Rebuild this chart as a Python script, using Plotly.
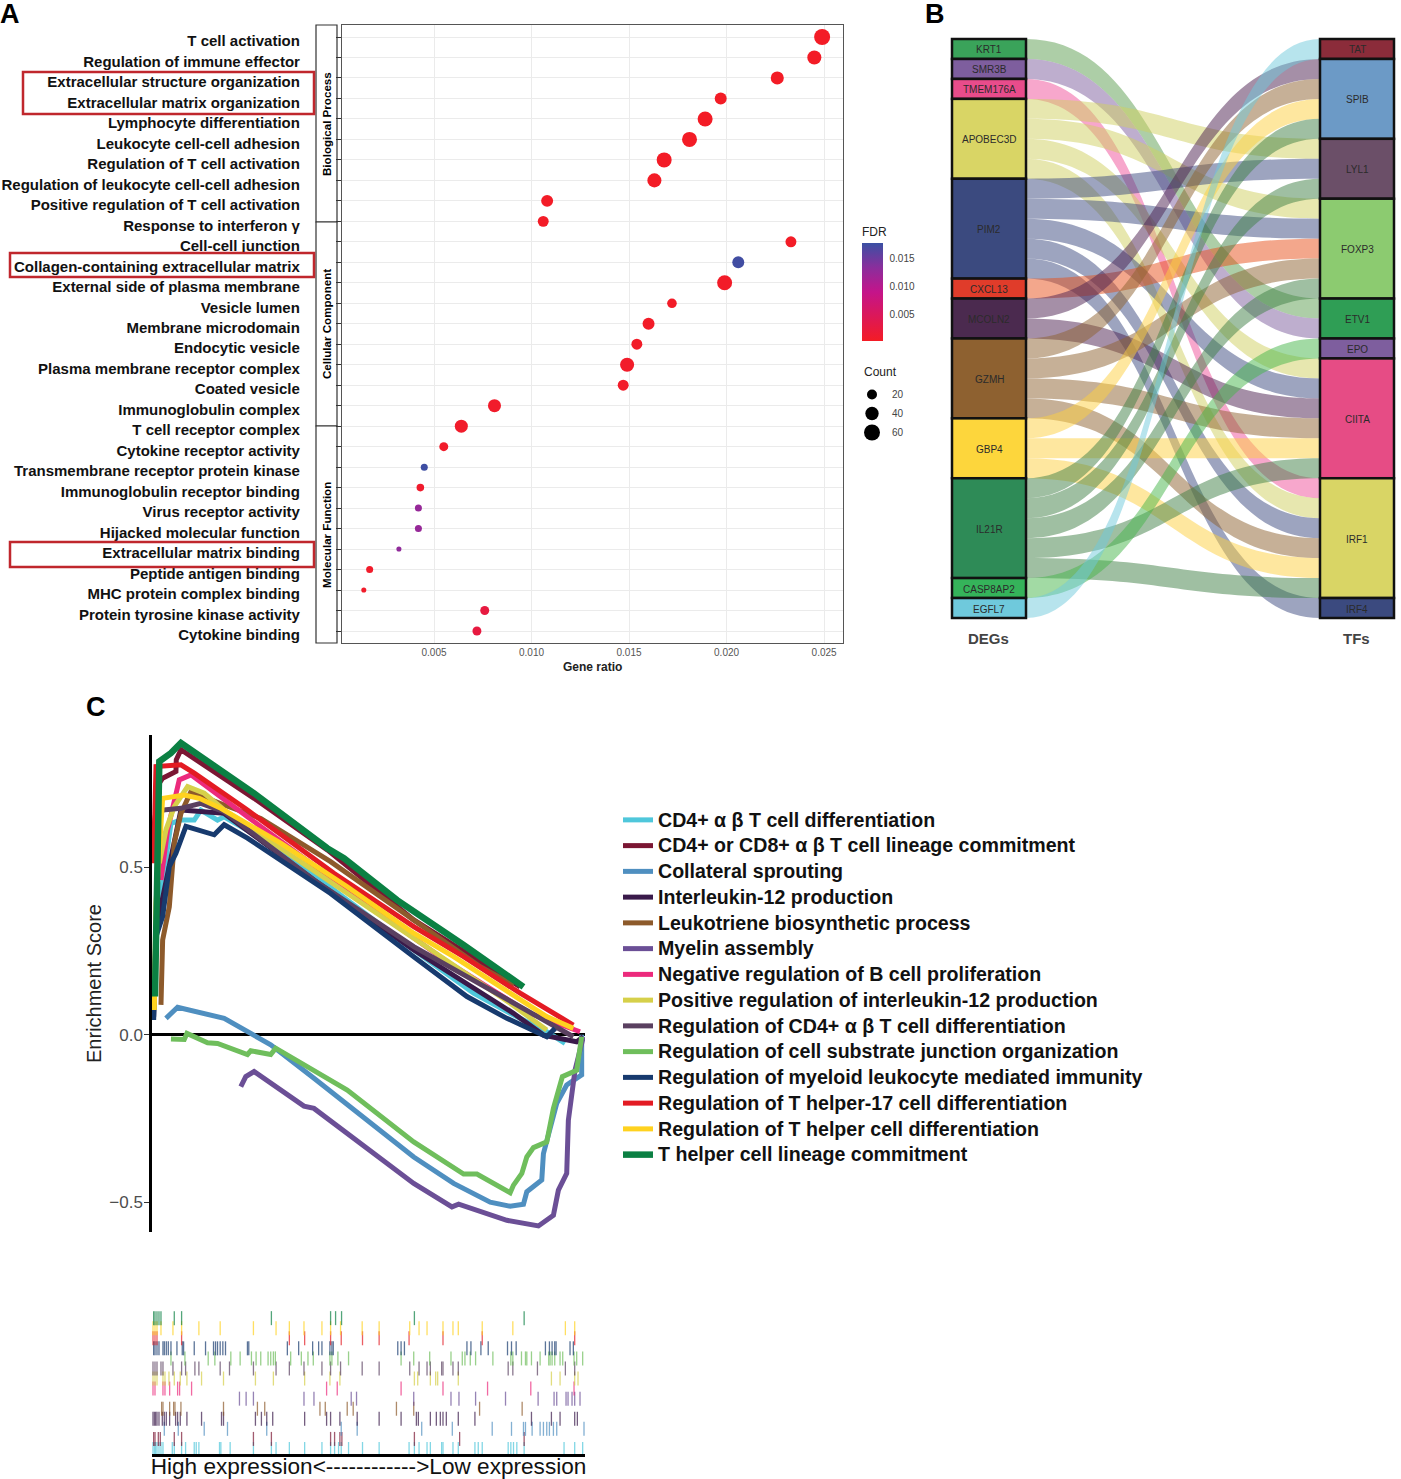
#### Composite figure: GO dot plot (A), DEG-TF alluvial (B) and GSEA running score plot (C)

import numpy as np
import plotly.graph_objects as go

W, H = 1401, 1479
FONT = "Liberation Sans"

# ---- Panel A data ----
go_terms = [
    "T cell activation", "Regulation of immune effector", "Extracellular structure organization",
    "Extracellular matrix organization", "Lymphocyte differentiation", "Leukocyte cell-cell adhesion",
    "Regulation of T cell activation", "Regulation of leukocyte cell-cell adhesion",
    "Positive regulation of T cell activation", "Response to interferon γ", "Cell-cell junction",
    "Collagen-containing extracellular matrix", "External side of plasma membrane", "Vesicle lumen",
    "Membrane microdomain", "Endocytic vesicle", "Plasma membrane receptor complex", "Coated vesicle",
    "Immunoglobulin complex", "T cell receptor complex", "Cytokine receptor activity",
    "Transmembrane receptor protein kinase", "Immunoglobulin receptor binding", "Virus receptor activity",
    "Hijacked molecular function", "Extracellular matrix binding", "Peptide antigen binding",
    "MHC protein complex binding", "Protein tyrosine kinase activity", "Cytokine binding",
]
gene_ratio = [0.0249, 0.0245, 0.0226, 0.0197, 0.0189, 0.0181, 0.0168, 0.0163, 0.0108, 0.0106,
              0.0233, 0.0206, 0.0199, 0.0172, 0.0160, 0.0154, 0.0149, 0.0147, 0.0081, 0.0064,
              0.0055, 0.0045, 0.0043, 0.0042, 0.0042, 0.0032, 0.0017, 0.0014, 0.0076, 0.0072]
go_count = [60, 45, 38, 31, 52, 52, 52, 45, 31, 25,
            25, 31, 52, 18, 31, 25, 45, 25, 38, 38,
            15, 7, 9, 7, 7, 1, 7, 1, 15, 15]
go_fdr = [0.0002, 0.0002, 0.0002, 0.0002, 0.0002, 0.0002, 0.0002, 0.0002, 0.0003, 0.0003,
          0.0003, 0.0175, 0.0004, 0.0004, 0.0004, 0.0004, 0.0005, 0.0005, 0.0006, 0.0006,
          0.0006, 0.0177, 0.0008, 0.0125, 0.0125, 0.0130, 0.0006, 0.0006, 0.0025, 0.0025]
legend_counts = [20, 40, 60]
fdr_ticks = [0.005, 0.010, 0.015]

# ---- Panel B data ----
deg_names = ["KRT1", "SMR3B", "TMEM176A", "APOBEC3D", "PIM2", "CXCL13", "MCOLN2", "GZMH", "GBP4",
             "IL21R", "CASP8AP2", "EGFL7"]
tf_names = ["TAT", "SPIB", "LYL1", "FOXP3", "ETV1", "EPO", "CIITA", "IRF1", "IRF4"]
flow_from = ["KRT1", "SMR3B", "TMEM176A", "APOBEC3D", "APOBEC3D", "APOBEC3D", "APOBEC3D",
             "PIM2", "PIM2", "PIM2", "PIM2", "PIM2", "CXCL13", "MCOLN2", "MCOLN2",
             "GZMH", "GZMH", "GZMH", "GZMH", "GBP4", "GBP4", "GBP4",
             "IL21R", "IL21R", "IL21R", "IL21R", "IL21R", "CASP8AP2", "EGFL7"]
flow_to = ["ETV1", "ETV1", "IRF1", "LYL1", "FOXP3", "CIITA", "IRF1",
           "LYL1", "FOXP3", "CIITA", "IRF1", "IRF4", "FOXP3", "SPIB", "CIITA",
           "SPIB", "FOXP3", "CIITA", "IRF1", "SPIB", "CIITA", "IRF1",
           "SPIB", "LYL1", "FOXP3", "CIITA", "IRF1", "EPO", "TAT"]
deg_colors = ["#3AA35A", "#7E5E9E", "#E84C8B", "#D9D565", "#3B4A7F", "#E03C2A", "#4B2A4F",
              "#8E6130", "#FDD63C", "#2E8B57", "#35B35A", "#6FC9DC"]
tf_colors = ["#8B2C3A", "#6C9AC6", "#6B4F68", "#8CCB70", "#2F9E55", "#7E5E9E", "#E64C85",
             "#D9D565", "#3B4A7F"]
flow_colors = {"KRT1": "#5C9E50", "SMR3B": "#7E5E9E", "TMEM176A": "#F0509A", "APOBEC3D": "#CFD060",
               "PIM2": "#3B4A7F", "CXCL13": "#E8501A", "MCOLN2": "#4B1F4F", "GZMH": "#8E6130",
               "GBP4": "#FDD040", "IL21R": "#3F7F45", "CASP8AP2": "#45B54A", "EGFL7": "#6FC9DC"}

# ---- Panel C data: rank axis has no labels, so the rank unit is arbitrary ----
gsea_names = [
    "CD4+ α β T cell differentiation", "CD4+ or CD8+ α β T cell lineage commitment",
    "Collateral sprouting", "Interleukin-12 production", "Leukotriene biosynthetic process",
    "Myelin assembly", "Negative regulation of B cell proliferation",
    "Positive regulation of interleukin-12 production", "Regulation of CD4+ α β T cell differentiation",
    "Regulation of cell substrate junction organization", "Regulation of myeloid leukocyte mediated immunity",
    "Regulation of T helper-17 cell differentiation", "Regulation of T helper cell differentiation",
    "T helper cell lineage commitment",
]
gsea_colors = ["#4FC7DB", "#7B1633", "#4F8FC0", "#3A1A4A", "#8D5A2B", "#6B4F96", "#EC2A7C",
               "#D6D04A", "#5A4060", "#6FBE5C", "#173A6E", "#E31B23", "#FFD21F", "#0B8043"]

rank_cd4 = [75, 120, 150, 190, 210, 260, 280, 450, 650, 850, 1030, 1140, 1250, 1305]
es_cd4 = [.313, .631, .641, .641, .671, .641, .651, .552, .402, .253, .124, .064, .009, -.026]
rank_cd8 = [68, 85, 95, 135, 136, 150, 370, 590, 850, 1170]
es_cd8 = [.612, .751, .766, .786, .821, .851, .706, .552, .343, .143]
rank_coll = [105, 140, 280, 350, 420, 550, 850, 970, 1080, 1140, 1180, 1190, 1235, 1240, 1280, 1310, 1355, 1355]
es_coll = [.049, .082, .049, .009, -.03, -.13, -.365, -.444, -.5, -.512, -.506, -.469, -.434, -.355, -.205, -.15, -.12, 0]
rank_il12 = [68, 75, 150, 280, 550, 850, 1150, 1240, 1340, 1360]
es_il12 = [.054, .313, .671, .661, .462, .253, .064, -.001, -.021, -.006]
rank_leuko = [90, 95, 115, 130, 150, 180, 280, 390, 600, 850, 1050, 1150]
es_leuko = [.089, .283, .382, .572, .661, .726, .686, .646, .517, .343, .203, .148]
rank_myelin = [330, 345, 370, 520, 550, 850, 965, 985, 1130, 1225, 1270, 1285, 1310, 1315, 1335, 1360]
es_myelin = [-.155, -.125, -.11, -.213, -.22, -.444, -.514, -.506, -.554, -.571, -.539, -.464, -.414, -.255, -.106, -.006]
rank_bcell = [90, 110, 145, 180, 350, 650, 950, 1200, 1350]
es_bcell = [.462, .612, .761, .776, .651, .432, .218, .064, .009]
rank_pos12 = [85, 105, 130, 170, 220, 280, 850, 1140, 1250]
es_pos12 = [.512, .612, .681, .741, .721, .671, .288, .094, .014]
rank_regcd4 = [70, 95, 150, 210, 280, 550, 850, 1130, 1330]
es_regcd4 = [.612, .671, .676, .691, .666, .462, .263, .104, -.006]
rank_subst = [120, 160, 168, 230, 260, 350, 360, 420, 435, 550, 600, 650, 850, 980, 1000, 1040, 1140, 1150,
              1175, 1190, 1210, 1250, 1270, 1297, 1340, 1355]
es_subst = [-.013, -.014, .004, -.024, -.026, -.059, -.048, -.059, -.04, -.106, -.135, -.165, -.32, -.404, -.416,
            -.416, -.472, -.449, -.414, -.365, -.337, -.32, -.22, -.125, -.106, -.006]
rank_myeloid = [68, 75, 95, 115, 135, 145, 165, 250, 280, 350, 600, 850, 1010, 1130, 1250, 1275]
es_myeloid = [.044, .293, .353, .502, .542, .572, .622, .597, .627, .587, .422, .233, .114, .049, -.006, .019]
rank_th17 = [68, 75, 150, 190, 350, 610, 850, 1000, 1170, 1330]
es_th17 = [.512, .801, .806, .781, .671, .482, .323, .233, .124, .029]
rank_thdiff = [70, 75, 95, 160, 205, 270, 450, 650, 850, 970, 1250, 1330]
es_thdiff = [.074, .392, .706, .716, .706, .676, .572, .442, .303, .233, .054, .019]
rank_thline = [72, 78, 85, 120, 150, 370, 590, 640, 800, 1000, 1180]
es_thline = [.114, .612, .816, .841, .871, .721, .557, .527, .402, .268, .143]

hits_cd4 = [66, 70, 74, 78, 84, 90, 96, 124, 130, 152, 164, 190, 196, 204, 266, 270, 298, 368, 422, 436, 476, 522,
            574, 600, 612, 624, 632, 654, 696, 746, 836, 852, 866, 890, 900, 934, 938, 968, 984, 1034, 1044, 1056,
            1134, 1142, 1150, 1160, 1182, 1302, 1334, 1358]
hits_cd8 = [68, 72, 82, 88, 130, 152, 368, 422, 600, 612, 628, 634, 852, 988, 1182]
hits_coll = [100, 142, 220, 290, 408, 632, 680, 874, 966, 1086, 1144, 1180, 1186, 1206, 1230, 1240, 1250, 1258,
             1270, 1280, 1362]
hits_il12 = [66, 70, 74, 78, 84, 94, 100, 106, 116, 134, 140, 148, 168, 212, 272, 278, 374, 392, 408, 426, 522, 588,
             600, 628, 680, 746, 812, 858, 864, 900, 918, 930, 938, 948, 984, 1034, 1204, 1264, 1290, 1334, 1342]
hits_leuko = [92, 96, 116, 128, 132, 150, 278, 380, 402, 568, 584, 650, 668, 798, 850, 1048, 1176]
hits_myelin = [326, 346, 368, 520, 550, 662, 678, 850, 962, 986, 1036, 1126, 1224, 1272, 1280, 1308, 1314, 1326,
               1334, 1350]
hits_bcell = [66, 72, 96, 102, 116, 140, 146, 182, 588, 620, 812, 938, 1072, 1202, 1332]
hits_pos12 = [66, 72, 78, 96, 102, 114, 130, 148, 168, 212, 278, 374, 428, 522, 598, 628, 852, 862, 900, 916, 922,
              984, 1264, 1290, 1334, 1344]
hits_regcd4 = [66, 72, 78, 90, 96, 126, 152, 164, 192, 204, 268, 296, 368, 436, 476, 520, 574, 600, 630, 695, 746,
               838, 866, 890, 900, 934, 938, 968, 984, 1134, 1148, 1222, 1306, 1334]
hits_subst = [120, 162, 232, 252, 300, 328, 362, 376, 390, 412, 420, 428, 434, 480, 512, 532, 548, 598, 604, 622,
              654, 812, 850, 898, 962, 996, 1004, 1020, 1036, 1088, 1142, 1148, 1174, 1186, 1190, 1204, 1230, 1256,
              1260, 1266, 1274, 1290, 1298, 1332, 1340, 1358]
hits_myeloid = [68, 72, 78, 84, 96, 100, 106, 112, 120, 138, 154, 158, 190, 224, 248, 254, 260, 268, 276, 284, 350,
                354, 470, 504, 546, 564, 574, 598, 604, 608, 802, 812, 822, 1010, 1022, 1052, 1074, 1132, 1144, 1158,
                1246, 1258, 1266, 1274, 1278, 1320, 1330]
hits_th17 = [66, 72, 78, 152, 476, 522, 600, 632, 696, 746, 836, 938, 1056, 1334]
hits_thdiff = [66, 72, 78, 90, 126, 152, 204, 268, 368, 436, 476, 520, 574, 600, 630, 695, 746, 838, 866, 890, 938,
               968, 984, 1056, 1148, 1306, 1334]
hits_thline = [68, 72, 78, 84, 90, 130, 152, 422, 600, 615, 633, 852, 1182]

gsea_ranks = [rank_cd4, rank_cd8, rank_coll, rank_il12, rank_leuko, rank_myelin, rank_bcell, rank_pos12,
              rank_regcd4, rank_subst, rank_myeloid, rank_th17, rank_thdiff, rank_thline]
gsea_scores = [es_cd4, es_cd8, es_coll, es_il12, es_leuko, es_myelin, es_bcell, es_pos12,
               es_regcd4, es_subst, es_myeloid, es_th17, es_thdiff, es_thline]
gsea_hits = [hits_cd4, hits_cd8, hits_coll, hits_il12, hits_leuko, hits_myelin, hits_bcell, hits_pos12,
             hits_regcd4, hits_subst, hits_myeloid, hits_th17, hits_thdiff, hits_thline]


def px_x(x):
    return x / W


def px_y(y):
    return 1 - y / H


def dom_x(a, b):
    return [px_x(a), px_x(b)]


def dom_y(top, bottom):
    return [px_y(bottom), px_y(top)]


def rgba(hex_color, alpha):
    r, g, b = (int(hex_color[i:i + 2], 16) for i in (1, 3, 5))
    return f"rgba({r},{g},{b},{alpha})"


def count_size(count):
    return np.sqrt(22 + 3.9 * np.asarray(count, dtype=float))


fig = go.Figure()

# Panel A
fig.add_trace(go.Scatter(
    x=gene_ratio, y=go_terms, mode="markers", xaxis="x", yaxis="y", showlegend=False,
    marker=dict(
        size=count_size(go_count), color=go_fdr, cmin=0.0001, cmax=0.0179, line_width=0, opacity=1,
        colorscale=[[0, "#F41C25"], [0.5, "#C4148A"], [0.75, "#8A2E9C"], [1, "#3A50A3"]],
        colorbar=dict(
            title=dict(text="FDR", side="top", font=dict(size=12, color="#222")),
            x=px_x(862), xanchor="left", xpad=0, y=px_y(224), yanchor="top", ypad=0,
            thickness=21, len=117, lenmode="pixels", outlinewidth=0,
            tickvals=fdr_ticks, tickformat=".3f", ticks="outside", ticklen=5, tickcolor="rgba(0,0,0,0)",
            tickfont=dict(size=10, color="#444"),
        ),
    ),
))
for c in legend_counts:
    fig.add_trace(go.Scatter(
        x=[None], y=[None], mode="markers", name=str(c), legend="legend2", xaxis="x", yaxis="y",
        marker=dict(size=count_size(c), color="black", opacity=1),
    ))

# Panel B
node_names = deg_names + tf_names
node_index = {n: i for i, n in enumerate(node_names)}
units = {n: flow_from.count(n) + flow_to.count(n) for n in node_names}
total_units = len(flow_from)
sankey_top, sankey_bottom = 39, 618


def stack_centres(names):
    vals = np.array([units[n] for n in names], dtype=float)
    return (np.cumsum(vals) - vals / 2) / total_units


node_y = list(stack_centres(deg_names)) + list(stack_centres(tf_names))
node_x = [37 / 442] * len(deg_names) + [405 / 442] * len(tf_names)
fig.add_trace(go.Sankey(
    arrangement="fixed", domain=dict(x=dom_x(952, 1394), y=dom_y(sankey_top, sankey_bottom)),
    hoverinfo="none",
    node=dict(label=[""] * len(node_names), x=node_x, y=node_y, pad=0, thickness=74,
              color=deg_colors + tf_colors, line=dict(color="#111", width=2.5)),
    link=dict(source=[node_index[n] for n in flow_from], target=[node_index[n] for n in flow_to],
              value=[1] * len(flow_from), color=[rgba(flow_colors[n], 0.5) for n in flow_from]),
))

# Panel C running score, legend text is sized in a span so the rows keep their tight spacing
for name, color, xs, ys in zip(gsea_names, gsea_colors, gsea_ranks, gsea_scores):
    fig.add_trace(go.Scatter(
        x=xs, y=ys, mode="lines", name=f'<span style="font-size:19.6px;font-weight:bold">{name}</span>',
        xaxis="x2", yaxis="y2",
        line=dict(color=color, width=6.5 if name.startswith("T helper") else 5),
    ))

# Panel C hit rug
for i, (color, hits) in enumerate(zip(gsea_colors, gsea_hits)):
    fig.add_trace(go.Scatter(
        x=hits, y=[i] * len(hits), mode="markers", xaxis="x3", yaxis="y3", showlegend=False,
        opacity=0.7, marker=dict(symbol="line-ns", size=10, line=dict(color=color, width=1.3)),
    ))

annotations = []


def label(x, y, text, size, color="black", bold=False, angle=0, xanchor="center"):
    annotations.append(dict(
        x=px_x(x), y=px_y(y), xref="paper", yref="paper", text=f"<b>{text}</b>" if bold else text,
        showarrow=False, xanchor=xanchor, yanchor="middle", textangle=angle,
        font=dict(family=FONT, size=size, color=color),
    ))


for letter, x, y in [("A", 10, 14), ("B", 935, 14), ("C", 96, 707)]:
    label(x, y, letter, 27, bold=True)
for text, x, y in [("Biological Process", 326, 124), ("Cellular Component", 327, 324), ("Molecular Function", 326, 535)]:
    label(x, y, text, 11.6, bold=True, angle=-90)
label(592, 667, "Gene ratio", 12, color="#222", bold=True)
label(880, 372, "Count", 12, color="#222")

# gene names sit inside the alluvial strata
step = (sankey_bottom - sankey_top) / total_units
for names, centre in [(deg_names, 989), (tf_names, 1357)]:
    for name, frac in zip(names, stack_centres(names)):
        label(centre, sankey_top + 1 + frac * total_units * step, name, 10, color="#2b2b2b")
label(988, 638, "DEGs", 15, color="#444", bold=True)
label(1356, 638, "TFs", 15, color="#444", bold=True)

shapes = []
for x0, y0, x1, y1 in [(23, 72, 314, 114), (10, 253, 314, 277), (10, 542, 314, 567)]:
    shapes.append(dict(type="rect", xref="paper", yref="paper", x0=px_x(x0), x1=px_x(x1), y0=px_y(y0), y1=px_y(y1),
                       line=dict(color="#C0272D", width=2.5), layer="above"))
for y0, y1 in [(25, 222), (222, 426), (426, 643)]:
    shapes.append(dict(type="rect", xref="paper", yref="paper", x0=px_x(316), x1=px_x(337), y0=px_y(y0), y1=px_y(y1),
                       line=dict(color="#333", width=1.2), fillcolor="white", layer="below"))

fig.update_layout(
    width=W, height=H, autosize=False, margin=dict(l=0, r=0, t=0, b=0),
    paper_bgcolor="white", plot_bgcolor="white", font=dict(family=FONT, color="black"),
    annotations=annotations, shapes=shapes,
    xaxis=dict(domain=dom_x(342, 843), range=[0.000282, 0.02597], tickvals=[0.005, 0.01, 0.015, 0.02, 0.025],
               tickformat=".3f", tickfont=dict(size=10, color="#555"), ticks="", gridcolor="#EBEBEB", zeroline=False,
               showline=True, mirror=True, linecolor="#555", linewidth=1.2),
    yaxis=dict(domain=dom_y(25, 643), type="category", categoryorder="array", categoryarray=go_terms,
               range=[29.586, -0.586], tickmode="array", tickvals=go_terms, ticktext=[f"<b>{t}</b>" for t in go_terms],
               ticks="outside", ticklen=5, tickcolor="#333", tickfont=dict(size=15, color="#111"),
               ticklabelstandoff=33, ticklabelshift=-4,
               gridcolor="#EBEBEB", zeroline=False, showline=True, mirror=True, linecolor="#555", linewidth=1.2),
    xaxis2=dict(domain=dom_x(152, 585), range=[63, 1365], visible=False),
    yaxis2=dict(domain=dom_y(735, 1232), range=[-0.589, 0.895], anchor="x2", tickvals=[-0.5, 0, 0.5],
                tickformat=".1f", tickfont=dict(size=17, color="#4d4d4d"), ticks="outside", ticklen=5,
                ticklabelstandoff=-2, tickcolor="#333", showgrid=False, showline=True, linecolor="black", linewidth=2.5,
                zeroline=True, zerolinecolor="black", zerolinewidth=2.5,
                title=dict(text="Enrichment Score", font=dict(size=20, color="#222"), standoff=3)),
    xaxis3=dict(domain=dom_x(152, 585), range=[63, 1365], anchor="y3", showticklabels=False, ticks="",
                showgrid=False, zeroline=False, showline=True, linecolor="black", linewidth=2.5,
                title=dict(text="High expression<------------>Low expression", font=dict(size=22.6, color="#111"), standoff=4)),
    yaxis3=dict(domain=dom_y(1310, 1454), range=[-0.5, 13.81], anchor="x3", visible=False),
    legend=dict(x=px_x(618), y=px_y(802), xanchor="left", yanchor="top", bgcolor="rgba(0,0,0,0)",
                font=dict(size=17.5, color="#111"), itemclick=False, tracegroupgap=0),
    legend2=dict(x=px_x(852), y=px_y(380), xanchor="left", yanchor="top", bgcolor="rgba(0,0,0,0)",
                 itemsizing="trace", font=dict(size=10, color="#444")),
)

# the default page body has an 8px margin that would clip the panel letters
fig.write_html("out.html", config={"displayModeBar": False}, post_script="document.body.style.margin='0';")
